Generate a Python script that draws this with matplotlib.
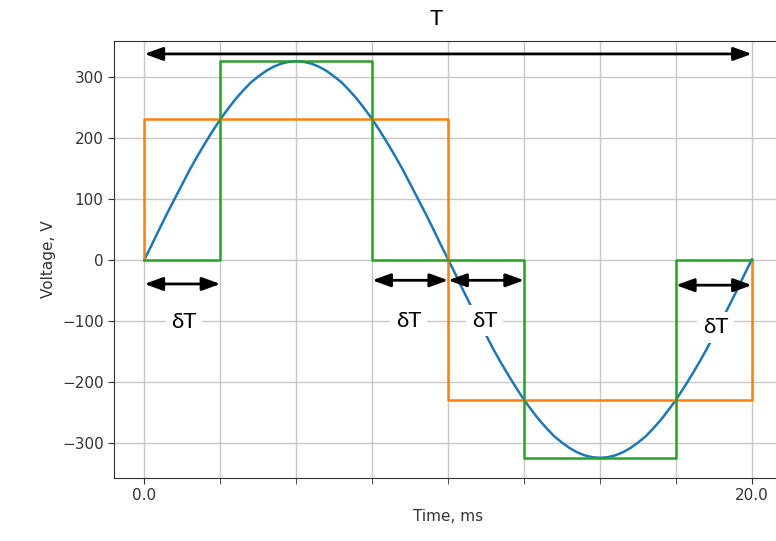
import numpy as np
import matplotlib.pyplot as plt

# sampled waveform, 0.25 ms steps over one 20 ms period
t_sine = np.arange(81) * 0.25
v_sine = [0, 25, 51, 76, 100, 124, 148, 170, 191, 211,
          230, 247, 263, 277, 290, 300, 309, 316, 321, 324,
          325, 324, 321, 316, 309, 300, 290, 277, 263, 247,
          230, 211, 191, 170, 148, 124, 100, 76, 51, 25,
          0, -25, -51, -76, -100, -124, -148, -170, -191, -211,
          -230, -247, -263, -277, -290, -300, -309, -316, -321, -324,
          -325, -324, -321, -316, -309, -300, -290, -277, -263, -247,
          -230, -211, -191, -170, -148, -124, -100, -76, -51, -25, 0]

# square wave (RMS level)
t_square = [0, 0, 10, 10, 20, 20]
v_square = [0, 230, 230, -230, -230, 0]

# quasi-square wave with dead time
t_quasi = [0, 2.5, 2.5, 7.5, 7.5, 12.5, 12.5, 17.5, 17.5, 20]
v_quasi = [0, 0, 325, 325, 0, 0, -325, -325, 0, 0]

# dead-time arrows: (start, end, y) and label positions
dt_arrows = [(0, 2.5, -40), (7.5, 10, -34), (10, 12.5, -34), (17.5, 20, -42)]
dt_labels = [(1.3, -103), (8.7, -100), (11.2, -100), (18.8, -111)]

fig = plt.figure(figsize=(7.76, 5.41), dpi=100)
ax = fig.add_axes([0.147, 0.1165, 0.861, 0.8075])

ax.plot(t_sine, v_sine, lw=1.8)
ax.plot(t_square, v_square, lw=1.8)
ax.plot(t_quasi, v_quasi, lw=1.8)

ax.set_xlim(-1, 21)
ax.set_ylim(-358, 358)
ax.set_xticks([0, 20])
ax.set_xticklabels(["0.0", "20.0"])
ax.set_xticks(np.arange(0, 20.1, 2.5), minor=True)
ax.set_yticks([-300, -200, -100, 0, 100, 200, 300])
ax.grid(True, which="both", color="#c8c8c8", lw=1.0)
ax.set_axisbelow(True)
ax.tick_params(labelsize=11, colors="#333333", length=4, which="both")
for s in ax.spines.values():
    s.set_color("#333333")
ax.set_xlabel("Time, ms", fontsize=11, color="#333333")
ax.set_ylabel("Voltage, V", fontsize=11, color="#333333")

arrow = dict(arrowstyle="<|-|>,head_length=0.55,head_width=0.2",
             color="black", lw=2, mutation_scale=20, shrinkA=0, shrinkB=0)

# full period
ax.annotate("", xy=(20, 337), xytext=(0, 337), arrowprops=arrow)
ax.text(9.6, 395, "T", fontsize=16, family="Lato", ha="center", va="center")

for (x0, x1, y), (lx, ly) in zip(dt_arrows, dt_labels):
    ax.annotate("", xy=(x1, y), xytext=(x0, y), arrowprops=arrow)
    ax.text(lx, ly, "δT", fontsize=16, family="Lato", ha="center", va="center",
            bbox=dict(facecolor="white", edgecolor="none", pad=4))

fig.savefig("out.png", dpi=100)
